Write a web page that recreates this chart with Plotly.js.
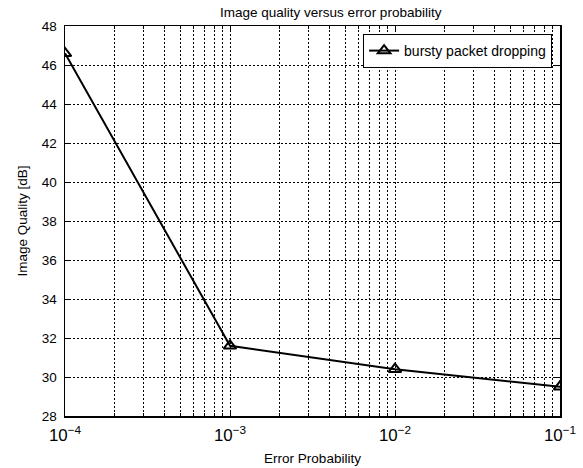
<!DOCTYPE html>
<html>
<head>
<meta charset="utf-8">
<script src="https://cdn.plot.ly/plotly-3.0.1.min.js"></script>
<style>html,body{margin:0;padding:0;background:#fff;}</style>
</head>
<body>
<div id="chart" style="width:583px;height:468px;"></div>
<script>
const errorProbability = [1e-4, 1e-3, 1e-2, 1e-1];
const imageQuality = [46.6, 31.6, 30.4, 29.5];
const seriesName = 'bursty packet dropping';

const font = {family: 'Liberation Sans, Arial, sans-serif', size: 13, color: '#000'};
const gridDash = '2px,2px';

const trace = {
  x: errorProbability,
  y: imageQuality,
  type: 'scatter',
  mode: 'lines+markers',
  name: seriesName,
  line: {color: '#000', width: 2},
  marker: {symbol: 'triangle-up-open', size: 11, color: '#000', line: {width: 2, color: '#000'}}
};

const layout = {
  width: 583, height: 468,
  margin: {l: 65, r: 23, t: 26, b: 52},
  paper_bgcolor: '#fff', plot_bgcolor: '#fff',
  font: font,
  title: {text: 'Image quality versus error probability', font: {size: 13.5},
          x: 313 / 583, xref: 'paper', xanchor: 'center', yref: 'container', y: 1 - 12 / 468, yanchor: 'middle'},
  xaxis: {
    type: 'log', range: [-4, -1], dtick: 1, exponentformat: 'power',
    showline: true, linecolor: '#000', linewidth: 1.5, mirror: 'ticks',
    ticks: 'inside', ticklen: 5, tickcolor: '#000',
    showgrid: true, gridcolor: '#000', griddash: gridDash, gridwidth: 1,
    minor: {dtick: 'D1', showgrid: true, gridcolor: '#000', griddash: gridDash, gridwidth: 1, ticks: 'inside', ticklen: 3, tickcolor: '#000'},
    zeroline: false,
    ticklabelstandoff: 4,
    tickfont: {size: 13.5},
    title: {text: 'Error Probability', font: {size: 13.5}, standoff: 9}
  },
  yaxis: {
    range: [28, 48], dtick: 2,
    showline: true, linecolor: '#000', linewidth: 1.5, mirror: 'ticks',
    ticks: 'inside', ticklen: 5, tickcolor: '#000',
    showgrid: true, gridcolor: '#000', griddash: gridDash, gridwidth: 1,
    zeroline: false,
    ticklabelstandoff: 4,
    tickfont: {size: 13.5},
    title: {text: 'Image Quality [dB]', font: {size: 13.5}, standoff: 11}
  },
  showlegend: true,
  legend: {
    x: 0.984, y: 0.9795, xanchor: 'right', yanchor: 'top',
    bgcolor: '#fff', bordercolor: '#000', borderwidth: 1,
    font: {size: 14}
  }
};

Plotly.newPlot('chart', [trace], layout, {displayModeBar: false, staticPlot: true});
</script>
</body>
</html>
